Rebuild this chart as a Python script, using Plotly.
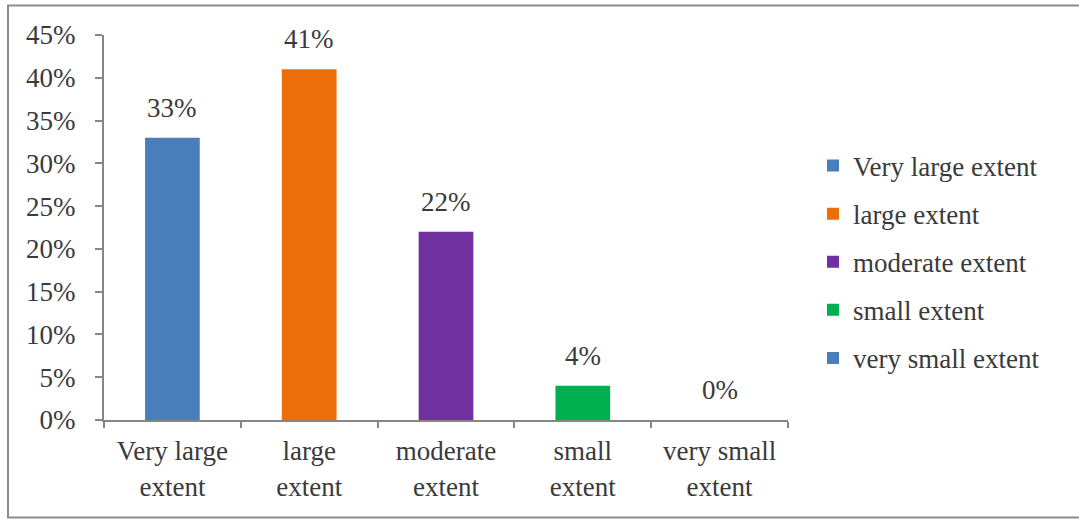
import plotly.graph_objects as go

categories = ["Very large<br>extent", "large<br>extent", "moderate<br>extent", "small<br>extent", "very small<br>extent"]
series_names = ["Very large extent", "large extent", "moderate extent", "small extent", "very small extent"]
values = [33, 41, 22, 4, 0]
colors = ["#4A7EBB", "#ED6D0B", "#7030A0", "#00B050", "#4A7EBB"]
y_ticks = [0, 5, 10, 15, 20, 25, 30, 35, 40, 45]
y_tick_labels = [f"{v}%" for v in y_ticks]

W, H = 1079, 519
L, R, T, B = 104, 291, 35, 99
pw, ph = W - L - R, H - T - B

FONT = "Liberation Serif"
TXT = "#3A3A3A"
FS = 27

fig = go.Figure()
for i, (cat, name, val, col) in enumerate(zip(categories, series_names, values, colors)):
    fig.add_trace(go.Bar(
        x=[cat], y=[val], name=name, marker=dict(color=col, line=dict(width=0)),
        width=0.4, legendgroup=name, showlegend=True,
    ))
    fig.add_annotation(x=cat, y=val, text=f"{val}%", showarrow=False,
                       yanchor="bottom", yshift=13,
                       font=dict(family=FONT, size=FS, color=TXT))

def px2x(p):
    return (p - L) / pw

def py2y(p):
    return (H - B - p) / ph

fig.add_shape(type="rect", xref="paper", yref="paper",
              x0=px2x(8), x1=px2x(1090), y0=py2y(5.5), y1=py2y(517.5),
              line=dict(color="#8C8C8C", width=2), layer="below")

fig.update_layout(
    width=W, height=H,
    margin=dict(l=L, r=R, t=T, b=B),
    paper_bgcolor="white", plot_bgcolor="white",
    barmode="overlay",
    font=dict(family=FONT, size=FS, color=TXT),
    legend=dict(x=px2x(813), xanchor="left", y=py2y(262), yanchor="middle",
                font=dict(family=FONT, size=FS, color=TXT),
                traceorder="grouped", tracegroupgap=10,
                bgcolor="rgba(0,0,0,0)"),
    xaxis=dict(type="category", categoryorder="array", categoryarray=categories,
               showline=True, linecolor="#868686", linewidth=2,
               ticks="outside", tickson="boundaries", ticklen=6, tickcolor="#868686",
               tickwidth=2, showgrid=False, zeroline=False,
               tickfont=dict(family=FONT, size=FS, color=TXT), ticklabelstandoff=6),
    yaxis=dict(range=[0, 45], tickmode="array", tickvals=y_ticks, ticktext=y_tick_labels,
               showline=True, linecolor="#868686", linewidth=2,
               ticks="outside", ticklen=7, tickcolor="#868686", tickwidth=2,
               showgrid=False, zeroline=False,
               tickfont=dict(family=FONT, size=FS, color=TXT), ticklabelstandoff=14),
)

fig.write_html("out.html")
